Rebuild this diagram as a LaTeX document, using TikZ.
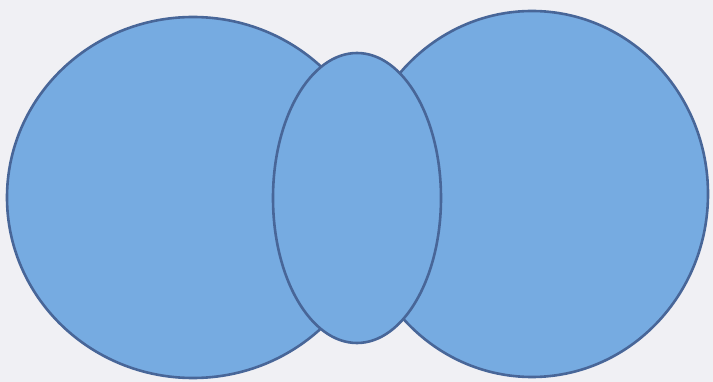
\documentclass[tikz,border=0pt]{standalone}
\definecolor{bgc}{RGB}{240,240,244}
\definecolor{fillc}{RGB}{118,171,225}
\definecolor{linec}{RGB}{72,102,152}
\begin{document}
\begin{tikzpicture}[x=1pt,y=-1pt,
  blob/.style={fill=fillc,draw=linec,line width=2.6pt}]
\fill[bgc] (0,0) rectangle (713,382);
\useasboundingbox (0,0) rectangle (713,382);
\path[blob] (193,197.5) ellipse [x radius=186, y radius=180.5];
\path[blob] (532,194) ellipse [x radius=176, y radius=183];
\path[blob] (357,198) ellipse [x radius=84, y radius=145];
\end{tikzpicture}
\end{document}
